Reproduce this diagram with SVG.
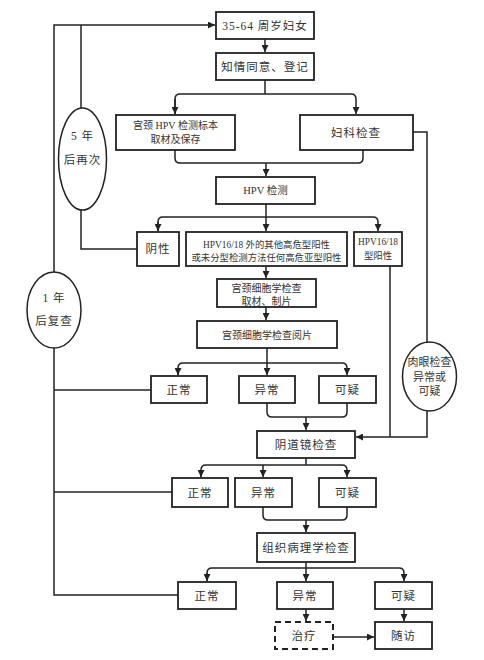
<svg xmlns="http://www.w3.org/2000/svg" width="484" height="660" viewBox="0 0 484 660">
<style>
.box{fill:#fff;stroke:#222;stroke-width:1.8}
.dash{fill:#fff;stroke:#222;stroke-width:2;stroke-dasharray:6 4}
.ell{fill:#fff;stroke:#222;stroke-width:1.5}
.ln{fill:none;stroke:#222;stroke-width:1.5}
text{font-family:"Liberation Serif","Noto Sans CJK SC",serif;font-size:10.5px;fill:#333;text-anchor:middle;dominant-baseline:central}
.big{font-size:11.5px;letter-spacing:1px}
.sm{font-size:10px}
.xs{font-size:9.4px}
.el{font-size:11px}
</style>
<defs>
<marker id="ar" viewBox="0 0 10 10" refX="10" refY="5" markerWidth="7" markerHeight="7" markerUnits="userSpaceOnUse" orient="auto"><path d="M0,0 L10,5 L0,10 z" fill="#222"/></marker>
</defs>
<rect width="484" height="660" fill="#fff"/>
<g id="connectors">
<path class="ln" d="M54,272 V25 H215" marker-end="url(#ar)"/>
<path class="ln" d="M81,25 V108"/>
<path class="ln" d="M81,210 V249 H137"/>
<path class="ln" d="M54,348 V595 H178"/>
<path class="ln" d="M54,390 H151"/>
<path class="ln" d="M54,492 H172"/>
<path class="ln" d="M265,39 V52" marker-end="url(#ar)"/>
<path class="ln" d="M265,80 V94"/>
<path class="ln" d="M175,114 V99 Q175,94 180,94 H351 Q356,94 356,99 V114" marker-end="url(#ar)"/>
<path class="ln" d="M175,99 V114" marker-end="url(#ar)"/>
<path class="ln" d="M175,150 V158 Q175,163 180,163 H358 Q363,163 363,158 V150"/>
<path class="ln" d="M266,163 V176" marker-end="url(#ar)"/>
<path class="ln" d="M266,204 V217"/>
<path class="ln" d="M158,231 V222 Q158,217 163,217 H373 Q378,217 378,222 V231" marker-end="url(#ar)"/>
<path class="ln" d="M158,222 V231" marker-end="url(#ar)"/>
<path class="ln" d="M266,217 V231" marker-end="url(#ar)"/>
<path class="ln" d="M266,266 V278" marker-end="url(#ar)"/>
<path class="ln" d="M266,307 V320" marker-end="url(#ar)"/>
<path class="ln" d="M267,348 V363"/>
<path class="ln" d="M178,375 V368 Q178,363 183,363 H342 Q347,363 347,368 V375" marker-end="url(#ar)"/>
<path class="ln" d="M178,368 V375" marker-end="url(#ar)"/>
<path class="ln" d="M267,363 V375" marker-end="url(#ar)"/>
<path class="ln" d="M267,403 V412 Q267,417 272,417 H342 Q347,417 347,412 V403"/>
<path class="ln" d="M306,417 V430" marker-end="url(#ar)"/>
<path class="ln" d="M413,132 H427 V342"/>
<path class="ln" d="M427,411 V437 H356" marker-end="url(#ar)"/>
<path class="ln" d="M390,266 V437"/>
<path class="ln" d="M306,458 V465"/>
<path class="ln" d="M201,477 V470 Q201,465 206,465 H342 Q347,465 347,470 V477" marker-end="url(#ar)"/>
<path class="ln" d="M201,470 V477" marker-end="url(#ar)"/>
<path class="ln" d="M263,465 V477" marker-end="url(#ar)"/>
<path class="ln" d="M263,507 V515 Q263,520 268,520 H342 Q347,520 347,515 V507"/>
<path class="ln" d="M306,520 V532" marker-end="url(#ar)"/>
<path class="ln" d="M306,562 V568"/>
<path class="ln" d="M207,581 V573 Q207,568 212,568 H399 Q404,568 404,573 V581" marker-end="url(#ar)"/>
<path class="ln" d="M207,573 V581" marker-end="url(#ar)"/>
<path class="ln" d="M306,568 V581" marker-end="url(#ar)"/>
<path class="ln" d="M306,609 V621" marker-end="url(#ar)"/>
<path class="ln" d="M404,609 V621" marker-end="url(#ar)"/>
<path class="ln" d="M333,637 H374" marker-end="url(#ar)"/>
</g>
<g id="n_women"><rect class="box" x="216" y="12" width="98" height="27"/><text class="big" x="265" y="25.5">35-64 周岁妇女</text></g>
<g id="n_consent"><rect class="box" x="216" y="53" width="98" height="27"/><text class="big" x="265" y="66.5">知情同意、登记</text></g>
<g id="n_sample"><rect class="box" x="116" y="115" width="119" height="35"/><text class="sm" x="175.5" y="125">宫颈 HPV 检测标本</text><text class="sm" x="175.5" y="139">取材及保存</text></g>
<g id="n_gyn"><rect class="box" x="300" y="115" width="113" height="35"/><text class="big" x="356" y="132.5">妇科检查</text></g>
<g id="n_hpv"><rect class="box" x="216" y="177" width="99" height="27"/><text x="265.5" y="190.5">HPV 检测</text></g>
<g id="n_neg"><rect class="box" x="137" y="232" width="42" height="34"/><text class="big" x="158" y="249">阴性</text></g>
<g id="n_other"><rect class="box" x="186" y="232" width="161" height="34"/><text class="xs" x="266.5" y="244.5">HPV16/18 外的其他高危型阳性</text><text class="xs" x="266.5" y="258">或未分型检测方法任何高危亚型阳性</text></g>
<g id="n_1618"><rect class="box" x="354" y="232" width="48" height="34"/><text class="xs" x="378" y="242">HPV16/18</text><text class="xs" x="378" y="255.5">型阳性</text></g>
<g id="n_cyto"><rect class="box" x="217" y="279" width="99" height="28"/><text class="sm" x="266.5" y="288">宫颈细胞学检查</text><text class="sm" x="266.5" y="301">取材、制片</text></g>
<g id="n_read"><rect class="box" x="197" y="321" width="140" height="27"/><text class="sm" x="267" y="335">宫颈细胞学检查阅片</text></g>
<g id="n_c_norm"><rect class="box" x="151" y="376" width="56" height="27"/><text class="big" x="179" y="390">正常</text></g>
<g id="n_c_abn"><rect class="box" x="239" y="376" width="56" height="27"/><text class="big" x="267" y="390">异常</text></g>
<g id="n_c_susp"><rect class="box" x="319" y="376" width="57" height="27"/><text class="big" x="347.5" y="390">可疑</text></g>
<g id="n_colpo"><rect class="box" x="257" y="431" width="98" height="27"/><text class="big" x="306" y="445">阴道镜检查</text></g>
<g id="n_v_norm"><rect class="box" x="172" y="478" width="56" height="29"/><text class="big" x="200" y="492.5">正常</text></g>
<g id="n_v_abn"><rect class="box" x="235" y="478" width="57" height="29"/><text class="big" x="263.5" y="492.5">异常</text></g>
<g id="n_v_susp"><rect class="box" x="319" y="478" width="57" height="29"/><text class="big" x="347.5" y="492.5">可疑</text></g>
<g id="n_path"><rect class="box" x="257" y="533" width="98" height="29"/><text class="big" x="306" y="548">组织病理学检查</text></g>
<g id="n_p_norm"><rect class="box" x="178" y="582" width="58" height="27"/><text class="big" x="207" y="596">正常</text></g>
<g id="n_p_abn"><rect class="box" x="277" y="582" width="56" height="27"/><text class="big" x="305" y="596">异常</text></g>
<g id="n_p_susp"><rect class="box" x="375" y="582" width="57" height="27"/><text class="big" x="403.5" y="596">可疑</text></g>
<g id="n_treat"><rect class="dash" x="275" y="622" width="58" height="27"/><text class="big" x="304" y="636">治疗</text></g>
<g id="n_follow"><rect class="box" x="375" y="622" width="57" height="27"/><text class="big" x="403.5" y="636">随访</text></g>
<g id="n_5yr"><ellipse class="ell" cx="82.5" cy="159" rx="24" ry="51"/><text class="big" x="82.5" y="136">5 年</text><text class="big" x="82.5" y="160">后再次</text></g>
<g id="n_1yr"><ellipse class="ell" cx="54" cy="310" rx="27" ry="38"/><text class="big" x="54" y="298">1 年</text><text class="big" x="54" y="321">后复查</text></g>
<g id="n_visual"><ellipse class="ell" cx="429.5" cy="376.5" rx="27" ry="34.5"/><text class="el" x="429.5" y="362">肉眼检查</text><text class="el" x="429.5" y="377">异常或</text><text class="el" x="429.5" y="391">可疑</text></g>
</svg>
